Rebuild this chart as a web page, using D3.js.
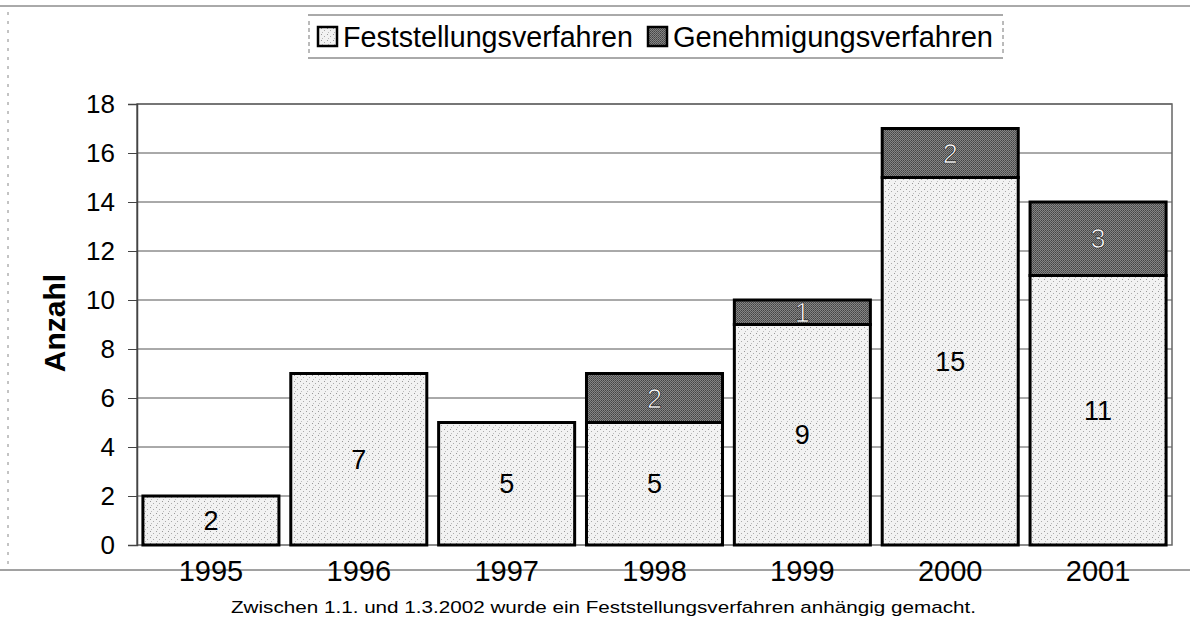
<!DOCTYPE html>
<html>
<head>
<meta charset="utf-8">
<script src="https://cdn.jsdelivr.net/npm/d3@7"></script>
<style>
  body { margin: 0; background: #fff; }
  svg { font-family: "Liberation Sans", Arial, sans-serif; }
</style>
</head>
<body>
<svg id="chart" width="1190" height="625"></svg>
<script>
const years = ["1995", "1996", "1997", "1998", "1999", "2000", "2001"];
const feststellung = [2, 7, 5, 5, 9, 15, 11];
const genehmigung = [0, 0, 0, 2, 1, 2, 3];
const yTicks = [0, 2, 4, 6, 8, 10, 12, 14, 16, 18];
const seriesNames = ["Feststellungsverfahren", "Genehmigungsverfahren"];

var svg = d3.select("#chart"),
  margin = { top: 104, right: 18, bottom: 80, left: 137 },
  width = 1190 - margin.left - margin.right,
  height = 625 - margin.top - margin.bottom;

// textures for the scanned look
var defs = svg.append("defs");
var light = defs.append("pattern").attr("id", "lightFill")
  .attr("patternUnits", "userSpaceOnUse").attr("width", 6).attr("height", 6);
light.append("rect").attr("width", 6).attr("height", 6).attr("fill", "#f2f2f2");
light.append("rect").attr("x", 1).attr("y", 1).attr("width", 1).attr("height", 1).attr("fill", "#999");
light.append("rect").attr("x", 4).attr("y", 3).attr("width", 1).attr("height", 1).attr("fill", "#aaa");
light.append("rect").attr("x", 2).attr("y", 5).attr("width", 1).attr("height", 1).attr("fill", "#bbb");
var dark = defs.append("pattern").attr("id", "darkFill")
  .attr("patternUnits", "userSpaceOnUse").attr("width", 2).attr("height", 2);
dark.append("rect").attr("width", 2).attr("height", 2).attr("fill", "#858585");
dark.append("rect").attr("width", 1).attr("height", 1).attr("fill", "#444");
dark.append("rect").attr("x", 1).attr("y", 1).attr("width", 1).attr("height", 1).attr("fill", "#555");

// outer frame lines
svg.append("line").attr("x1", 0).attr("x2", 1190).attr("y1", 6).attr("y2", 6)
  .attr("stroke", "#555").attr("stroke-width", 1);
svg.append("line").attr("x1", 0).attr("x2", 1190).attr("y1", 570).attr("y2", 570)
  .attr("stroke", "#444").attr("stroke-width", 1);
svg.append("line").attr("x1", 8).attr("x2", 8).attr("y1", 12).attr("y2", 565)
  .attr("stroke", "#888").attr("stroke-dasharray", "3,6");

var x = d3.scaleBand().domain(years).range([0, width]).paddingInner(0.08).paddingOuter(0.04),
  y = d3.scaleLinear().domain([0, 18]).range([height, 0]);

var g = svg.append("g")
  .attr("transform", "translate(" + margin.left + "," + margin.top + ")");

// gridlines
g.selectAll(".grid").data(yTicks.slice(1)).enter().append("line")
  .attr("class", "grid")
  .attr("x1", 0).attr("x2", width)
  .attr("y1", d => y(d)).attr("y2", d => y(d))
  .attr("stroke", "#555").attr("stroke-width", 1);

// plot border
g.append("rect").attr("width", width).attr("height", height)
  .attr("fill", "none").attr("stroke", "#666").attr("stroke-width", 1.5);

// y axis
var yAxis = g.append("g").attr("class", "axis axis--y")
  .call(d3.axisLeft(y).tickValues(yTicks).tickSize(9).tickPadding(13));
yAxis.select(".domain").attr("stroke", "#444").attr("stroke-width", 1.5);
yAxis.selectAll("line").attr("stroke", "#444");
yAxis.selectAll("text").attr("font-size", 26).attr("fill", "#000")
  .attr("font-family", "Liberation Sans, Arial, sans-serif");

// x axis
var xAxis = g.append("g").attr("class", "axis axis--x")
  .attr("transform", "translate(0," + height + ")")
  .call(d3.axisBottom(x).tickSize(0).tickPadding(15));
xAxis.select(".domain").remove();
xAxis.selectAll("text").attr("font-size", 29).attr("fill", "#000")
  .attr("font-family", "Liberation Sans, Arial, sans-serif");

svg.append("text")
  .attr("transform", "translate(65,323) rotate(-90)")
  .attr("text-anchor", "middle")
  .attr("font-size", 30).attr("font-weight", 700)
  .text("Anzahl");

// bars
var stacked = years.map((yr, i) => ({ year: yr, f: feststellung[i], gn: genehmigung[i] }));

g.selectAll(".barF").data(stacked).enter().append("rect")
  .attr("class", "barF")
  .attr("x", d => x(d.year)).attr("y", d => y(d.f))
  .attr("width", x.bandwidth()).attr("height", d => height - y(d.f))
  .attr("fill", "url(#lightFill)").attr("stroke", "#000").attr("stroke-width", 3);

g.selectAll(".barG").data(stacked.filter(d => d.gn > 0)).enter().append("rect")
  .attr("class", "barG")
  .attr("x", d => x(d.year)).attr("y", d => y(d.f + d.gn))
  .attr("width", x.bandwidth()).attr("height", d => y(d.f) - y(d.f + d.gn))
  .attr("fill", "url(#darkFill)").attr("stroke", "#000").attr("stroke-width", 3);

g.selectAll(".lblF").data(stacked).enter().append("text")
  .attr("x", d => x(d.year) + x.bandwidth() / 2)
  .attr("y", d => y(d.f / 2)).attr("dy", "0.36em")
  .attr("text-anchor", "middle").attr("font-size", 27).attr("fill", "#000")
  .text(d => d.f);

g.selectAll(".lblG").data(stacked.filter(d => d.gn > 0)).enter().append("text")
  .attr("x", d => x(d.year) + x.bandwidth() / 2)
  .attr("y", d => y(d.f + d.gn / 2)).attr("dy", "0.36em")
  .attr("text-anchor", "middle").attr("font-size", 27).attr("fill", "#fff")
  .attr("stroke", "#222").attr("stroke-width", 0.7)
  .text(d => d.gn);

// legend
var legend = svg.append("g").attr("transform", "translate(308,15)");
legend.append("line").attr("x1", 0).attr("x2", 695).attr("y1", 0).attr("y2", 0).attr("stroke", "#555");
legend.append("line").attr("x1", 0).attr("x2", 695).attr("y1", 43).attr("y2", 43).attr("stroke", "#555");
legend.append("line").attr("x1", 1).attr("x2", 1).attr("y1", 6).attr("y2", 38).attr("stroke", "#777").attr("stroke-dasharray", "4,3");
legend.append("line").attr("x1", 695).attr("x2", 695).attr("y1", 6).attr("y2", 38).attr("stroke", "#777").attr("stroke-dasharray", "4,3");
var fills = ["url(#lightFill)", "url(#darkFill)"];
var offs = [10, 340];
var textLens = [290, 320];
seriesNames.forEach(function (name, i) {
  legend.append("rect").attr("x", offs[i]).attr("y", 12).attr("width", 19).attr("height", 19)
    .attr("fill", fills[i]).attr("stroke", "#000").attr("stroke-width", 2.5);
  legend.append("text").attr("x", offs[i] + 25).attr("y", 32)
    .attr("font-size", 29).attr("fill", "#000")
    .attr("textLength", textLens[i]).attr("lengthAdjust", "spacingAndGlyphs")
    .text(name);
});

// caption
svg.append("text").attr("x", 231).attr("y", 613)
  .attr("font-size", 17).attr("fill", "#000")
  .attr("textLength", 745).attr("lengthAdjust", "spacingAndGlyphs")
  .text("Zwischen 1.1. und 1.3.2002 wurde ein Feststellungsverfahren anhängig gemacht.");
</script>
</body>
</html>
